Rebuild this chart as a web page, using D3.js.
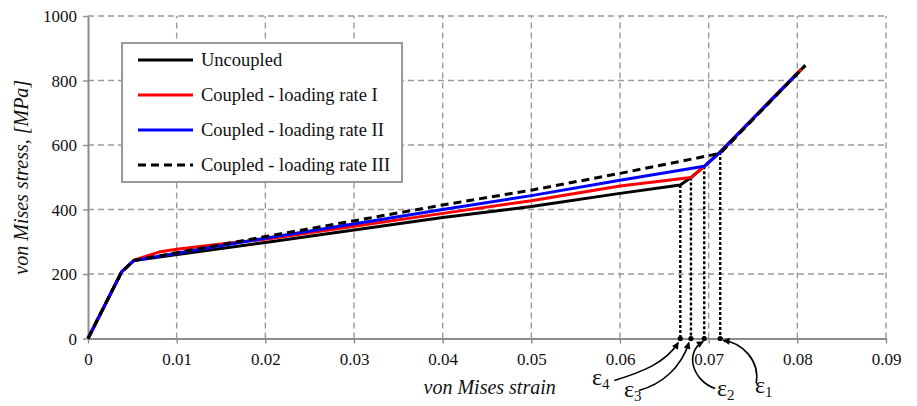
<!DOCTYPE html>
<html>
<head>
<meta charset="utf-8">
<script src="https://cdn.jsdelivr.net/npm/d3@7/dist/d3.min.js"></script>
<style>
  html, body { margin: 0; padding: 0; background: #fff; }
  svg { display: block; }
  svg text { font-family: "Liberation Serif", "Times New Roman", serif !important; }
</style>
</head>
<body>
<svg id="chart" width="917" height="406"></svg>
<script>
// ---- data ----
const xTicks = [0, 0.01, 0.02, 0.03, 0.04, 0.05, 0.06, 0.07, 0.08, 0.09];
const yTicks = [0, 200, 400, 600, 800, 1000];

const uncoupledStrain = [0, 0.0038, 0.0052, 0.02, 0.04, 0.05, 0.06, 0.0668, 0.0680, 0.0695, 0.0713, 0.0809];
const uncoupledStress = [0, 207, 242, 298, 375, 409, 450, 476, 499, 534, 578, 847];

const rate1Strain = [0, 0.0038, 0.0052, 0.0080, 0.0100, 0.016, 0.02, 0.04, 0.05, 0.06, 0.0680, 0.0695, 0.0713, 0.0804];
const rate1Stress = [0, 207, 243, 268, 277, 296, 308, 388, 427, 473, 499, 534, 578, 835];

const rate2Strain = [0, 0.0038, 0.0052, 0.02, 0.04, 0.05, 0.06, 0.0695, 0.0713, 0.0799];
const rate2Stress = [0, 207, 242, 311, 400, 443, 491, 534, 578, 819];

const rate3Strain = [0, 0.0038, 0.0052, 0.02, 0.04, 0.05, 0.06, 0.0713, 0.0809];
const rate3Stress = [0, 207, 242, 316, 414, 460, 512, 574, 847];

const seriesNames = ["Uncoupled", "Coupled - loading rate I", "Coupled - loading rate II", "Coupled - loading rate III"];

const epsStrain = [0.0713, 0.0695, 0.0680, 0.0668];
const epsStress = [578, 534, 499, 476];
const epsSub = ["1", "2", "3", "4"];

// ---- setup ----
const svg = d3.select("#chart");
const x = d3.scaleLinear().domain([0, 0.09]).range([88, 886]);
const y = d3.scaleLinear().domain([0, 1000]).range([338.5, 16]);

const gridColor = "#9a9a9a";
const axisColor = "#8c8c8c";

// grid
svg.append("g").selectAll("line").data(xTicks.filter(d => d > 0)).join("line")
  .attr("x1", d => x(d)).attr("x2", d => x(d))
  .attr("y1", y(0)).attr("y2", y(1000))
  .attr("stroke", gridColor).attr("stroke-width", 1.4).attr("stroke-dasharray", "6,4");
svg.append("g").selectAll("line").data(yTicks.filter(d => d > 0)).join("line")
  .attr("x1", x(0)).attr("x2", x(0.09))
  .attr("y1", d => y(d)).attr("y2", d => y(d))
  .attr("stroke", gridColor).attr("stroke-width", 1.4).attr("stroke-dasharray", "6,4");

// axes via d3
const xAxis = svg.append("g").attr("transform", `translate(0,${y(0)})`)
  .call(d3.axisBottom(x).tickValues(xTicks).tickSize(5).tickSizeOuter(0)
    .tickFormat(d => d === 0 ? "0" : d3.format(".2f")(d)));
const yAxis = svg.append("g").attr("transform", `translate(${x(0)},0)`)
  .call(d3.axisLeft(y).tickValues(yTicks).tickSize(5).tickSizeOuter(0).tickFormat(d3.format("d")));

[xAxis, yAxis].forEach(g => {
  g.attr("font-family", null);
  g.select(".domain").attr("stroke", axisColor).attr("stroke-width", 2);
  g.selectAll(".tick line").attr("stroke", axisColor).attr("stroke-width", 1.4);
  g.selectAll(".tick text").attr("fill", "#111").attr("font-size", "17px");
});
xAxis.selectAll(".tick text").attr("dy", null).attr("y", 26);
yAxis.selectAll(".tick text").attr("x", -11).attr("dy", "0.34em");

// axis titles
svg.append("text").attr("x", x(0.0453)).attr("y", 394).attr("text-anchor", "middle")
  .attr("font-size", "20px").attr("font-style", "italic").attr("fill", "#111")
  .text("von Mises strain");
svg.append("text").attr("transform", `translate(28,${y(500)}) rotate(-90)`)
  .attr("text-anchor", "middle").attr("font-size", "20px").attr("font-style", "italic").attr("fill", "#111")
  .text("von Mises stress, [MPa]");

// dotted verticals
svg.append("g").selectAll("line").data(epsStrain).join("line")
  .attr("x1", d => x(d)).attr("x2", d => x(d))
  .attr("y1", (d, i) => y(epsStress[i])).attr("y2", y(0))
  .attr("stroke", "#000").attr("stroke-width", 2.4).attr("stroke-dasharray", "3,2");
svg.append("g").selectAll("circle").data(epsStrain).join("circle")
  .attr("cx", d => x(d)).attr("cy", y(0)).attr("r", 2.6).attr("fill", "#000");

// series
const line = d3.line().x(d => x(d[0])).y(d => y(d[1]));
const zip = (a, b) => a.map((v, i) => [v, b[i]]);
const series = [
  { pts: zip(uncoupledStrain, uncoupledStress), color: "#000", dash: null },
  { pts: zip(rate1Strain, rate1Stress), color: "#ff0000", dash: null },
  { pts: zip(rate2Strain, rate2Stress), color: "#0000ff", dash: null },
  { pts: zip(rate3Strain, rate3Stress), color: "#000", dash: "8,5" }
];
svg.append("g").selectAll("path").data(series).join("path")
  .attr("d", d => line(d.pts)).attr("fill", "none")
  .attr("stroke", d => d.color).attr("stroke-width", 3)
  .attr("stroke-dasharray", d => d.dash)
  .attr("stroke-linejoin", "round");

// legend
const lg = svg.append("g");
lg.append("rect").attr("x", 122).attr("y", 43).attr("width", 280).attr("height", 139)
  .attr("fill", "#fff").attr("stroke", "#999").attr("stroke-width", 2);
series.forEach((s, i) => {
  const yy = 60 + i * 35;
  lg.append("line").attr("x1", 138).attr("x2", 193).attr("y1", yy).attr("y2", yy)
    .attr("stroke", s.color).attr("stroke-width", 3).attr("stroke-dasharray", s.dash);
  lg.append("text").attr("x", 201).attr("y", yy + 6).attr("font-size", "18.5px").attr("fill", "#111")
    .text(seriesNames[i]);
});

// arrow marker
svg.append("defs").append("marker").attr("id", "ah")
  .attr("viewBox", "0 0 10 10").attr("refX", 9).attr("refY", 5)
  .attr("markerWidth", 9).attr("markerHeight", 7).attr("markerUnits", "userSpaceOnUse")
  .attr("orient", "auto")
  .append("path").attr("d", "M0,0 L10,5 L0,10 z").attr("fill", "#000");

const y0 = y(0);
// annotation curves (offsets relative to each epsilon's axis point)
const arrowDefs = [
  { i: 0, path: (t) => `M${t + 36},${y0 + 45} C${t + 40},${y0 + 22} ${t + 22},${y0 + 4} ${t + 3},${y0 + 2}`, lx: 755, ly: 393 },
  { i: 1, path: (t) => `M${t + 11},${y0 + 50} C${t - 12},${y0 + 42} ${t - 20},${y0 + 14} ${t - 1},${y0 + 3}`, lx: 717, ly: 396 },
  { i: 2, path: (t) => `M${t - 52},${y0 + 52} C${t - 30},${y0 + 46} ${t - 10},${y0 + 30} ${t - 2},${y0 + 4}`, lx: 624, ly: 397 },
  { i: 3, path: (t) => `M${t - 66},${y0 + 42} C${t - 40},${y0 + 34} ${t - 15},${y0 + 25} ${t - 2},${y0 + 4}`, lx: 592, ly: 385 }
];
arrowDefs.forEach(a => {
  const t = x(epsStrain[a.i]);
  svg.append("path").attr("d", a.path(t)).attr("fill", "none")
    .attr("stroke", "#000").attr("stroke-width", 1.6).attr("marker-end", "url(#ah)");
  const tx = svg.append("text").attr("x", a.lx).attr("y", a.ly).attr("fill", "#111");
  tx.append("tspan").attr("font-size", "24px").text("ε");
  tx.append("tspan").attr("font-size", "15px").attr("dy", 4).text(epsSub[a.i]);
});
</script>
</body>
</html>
